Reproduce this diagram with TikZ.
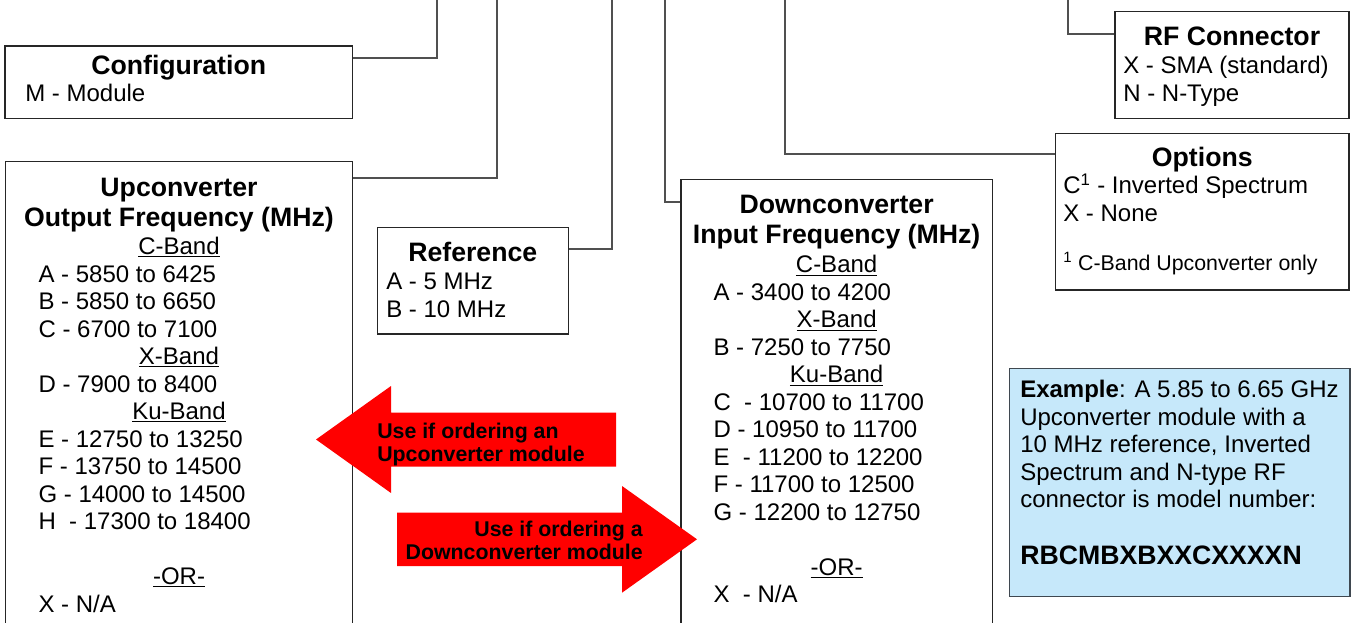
\documentclass[tikz,border=0pt]{standalone}
\usepackage{fontspec}
\setmainfont{Liberation Sans}
\usetikzlibrary{calc,fit}
\definecolor{boxline}{HTML}{262626}
\definecolor{linkgray}{HTML}{505050}
\definecolor{exfill}{HTML}{C6E8FA}
\definecolor{exline}{HTML}{3F4850}
\newcommand{\bodyfont}{\fontsize{18}{21}\selectfont}
\newcommand{\titlefont}{\fontsize{20}{23}\selectfont\bfseries}
\newcommand{\tagfont}{\fontsize{16}{18}\selectfont\bfseries}
\newcommand{\notefont}{\fontsize{16}{18}\selectfont}

\begin{document}
\begin{tikzpicture}[x=0.75pt,y=-0.75pt,
  box/.style={draw=boxline,line width=1.1pt,inner sep=0pt},
  link/.style={draw=linkgray,line width=1.5pt},
  ttl/.style={font=\titlefont,anchor=base,inner sep=0pt},
  itm/.style={font=\bodyfont,anchor=base west,inner sep=0pt},
  band/.style={font=\bodyfont,anchor=base,inner sep=0pt},
  tag/.style={font=\tagfont,inner sep=0pt}]
  \useasboundingbox (0,0) rectangle (1351,623);
  \clip (0,0) rectangle (1351,623);
  % configuration
  \node[box,fit={(5,46) (352.3,118.3)}] (cfg) {};
  \node[ttl] (cfg-t) at (178.7,74.5) {Configuration};
  \node[itm] (cfg-m) at (25,101.9) {M - Module};
  % upconverter
  \node[box,fit={(5.7,161.7) (352.3,660)}] (up) {};
  \node[ttl] (up-t1) at (179,196.2) {Upconverter};
  \node[ttl] (up-t2) at (179,226.2) {Output Frequency (MHz)};
  \foreach \r/\t in {0/C-Band,4/X-Band,6/Ku-Band,12/-OR-}
    \node[band] (up-b\r) at (179,{254.6+\r*27.5}) {\underline{\t}};
  \foreach \r/\t in {1/{A - 5850 to 6425},2/{B - 5850 to 6650},3/{C - 6700 to 7100},
      5/{D - 7900 to 8400},7/{E - 12750 to 13250},8/{F - 13750 to 14500},
      9/{G - 14000 to 14500},10/{H\ \ - 17300 to 18400},13/{X - N/A}}
    \node[itm] (up-i\r) at (38.3,{254.6+\r*27.5}) {\t};
  % reference
  \node[box,fit={(377.3,227.7) (568.3,334)}] (ref) {};
  \node[ttl] (ref-t) at (472.8,261.2) {Reference};
  \node[itm] (ref-a) at (386,290) {A - 5 MHz};
  \node[itm] (ref-b) at (386,317) {B - 10 MHz};
  % downconverter
  \node[box,fit={(681,179.5) (992.3,660)}] (dn) {};
  \node[ttl] (dn-t1) at (836.6,213.8) {Downconverter};
  \node[ttl] (dn-t2) at (836.6,243.8) {Input Frequency (MHz)};
  \foreach \r/\t in {0/C-Band,2/X-Band,4/Ku-Band,11/-OR-}
    \node[band] (dn-b\r) at (836.6,{272.9+\r*27.5}) {\underline{\t}};
  \foreach \r/\t in {1/{A - 3400 to 4200},3/{B - 7250 to 7750},5/{C\ \ - 10700 to 11700},
      6/{D - 10950 to 11700},7/{E\ \ - 11200 to 12200},8/{F - 11700 to 12500},
      9/{G - 12200 to 12750},12/{X\ \ - N/A}}
    \node[itm] (dn-i\r) at (713.3,{272.9+\r*27.5}) {\t};
  % options
  \node[box,fit={(1055.5,133.3) (1349,290)}] (opt) {};
  \node[ttl] (opt-t) at (1202.3,167) {Options};
  \node[itm] (opt-c) at (1063,193.5) {C\textsuperscript{1} - Inverted Spectrum};
  \node[itm] (opt-x) at (1063,221.6) {X - None};
  \node[itm,font=\notefont] (opt-n) at (1063,271) {\textsuperscript{1} C-Band Upconverter only};
  % rf connector
  \node[box,fit={(1115,11.7) (1349,118.3)}] (rf) {};
  \node[ttl] (rf-t) at (1232,45.5) {RF Connector};
  \node[itm] (rf-x) at (1123,74) {X - SMA (standard)};
  \node[itm] (rf-n) at (1123,101.7) {N - N-Type};
  % example
  \node[box,draw=exline,fill=exfill,fit={(1009.3,368.5) (1350,596.7)}] (ex) {};
  \foreach \r/\t in {0/{\textbf{Example}: A 5.85 to 6.65 GHz},1/{Upconverter module with a},
      2/{10 MHz reference, Inverted},3/{Spectrum and N-type RF},4/{connector is model number:}}
    \node[itm] (ex-\r) at (1020,{397.6+\r*27.5}) {\t};
  \node[itm,font=\titlefont] (ex-code) at (1020,564) {RBCMBXBXXCXXXXN};
  % connectors
  \coordinate (c-cfg) at (436.7,0);
  \coordinate (c-up) at (497.3,0);
  \coordinate (c-ref) at (611.7,0);
  \coordinate (c-dn) at (664.7,0);
  \coordinate (c-opt) at (784.5,0);
  \coordinate (c-rf) at (1067.7,0);
  \draw[link] (c-cfg) |- ($(cfg.north east)+(0,12.3)$);
  \draw[link] (c-up) |- ($(up.north east)+(0,17)$);
  \draw[link] (c-ref) |- ($(ref.north east)+(0,22.3)$);
  \draw[link] (c-dn) |- ($(dn.north west)+(0,23)$);
  \draw[link] (c-opt) |- ($(opt.north west)+(0,21.7)$);
  \draw[link] (c-rf) |- ($(rf.north west)+(0,22.8)$);
  % red arrows
  \fill[red] (316,439.5) -- (391,386) -- (391,412.5) -- (616,412.5) -- (616,466.5)
    -- (391,466.5) -- (391,493) -- cycle;
  \node[tag,anchor=base west] (use-up1) at (377,438.5) {Use if ordering an};
  \node[tag,anchor=base west] (use-up2) at (377,461.7) {Upconverter module};
  \fill[red] (397,512.5) -- (622,512.5) -- (622,486) -- (697,539.3) -- (622,592.7)
    -- (622,566) -- (397,566) -- cycle;
  \node[tag,anchor=base east] (use-dn1) at (643,536) {Use if ordering a};
  \node[tag,anchor=base east] (use-dn2) at (643,559.3) {Downconverter module};
\end{tikzpicture}
\end{document}
